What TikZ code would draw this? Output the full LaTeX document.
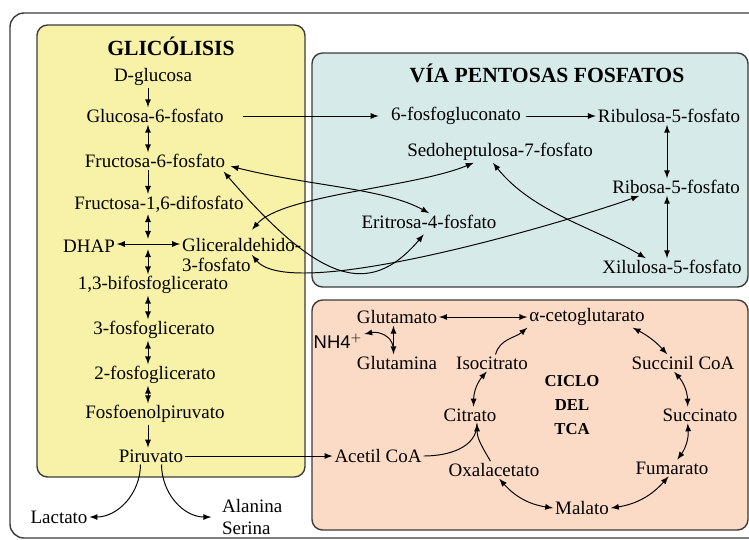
\documentclass[tikz,border=0pt]{standalone}
\usepackage{fontspec}
\setmainfont{Liberation Serif}
\newfontfamily\sansnh{Liberation Sans}

\definecolor{amarillo}{HTML}{F8F1A8}
\definecolor{celeste}{HTML}{D6EAE9}
\definecolor{salmon}{HTML}{FBDBC6}
\definecolor{borde}{HTML}{3C3C3C}

\tikzset{
	caja/.style={draw=borde, line width=0.8pt, rounded corners=6pt},
	met/.style={inner sep=1pt, font=\fontsize{10.8}{11}\selectfont},
	titulo/.style={inner sep=1pt, font=\fontsize{12.3}{14}\selectfont\bfseries},
	flecha/.style={line width=0.55pt, -latex},
	doble/.style={line width=0.55pt, latex-latex},
}

\begin{document}
\begin{tikzpicture}[x=0.02cm, y=-0.02cm]
		\useasboundingbox (0,0) rectangle (749,539);
		\draw[caja, rounded corners=8pt, fill=white] (10,13) rectangle (770,538);
		\draw[caja, fill=amarillo] (37,25) rectangle (305,477);
		\draw[caja, fill=celeste] (312,53) rectangle (748,287);
		\draw[caja, fill=salmon] (312,300) rectangle (748,530);

		% glucolisis
		\node[titulo] (glic) at (171,46) {GLICÓLISIS};
		\node[met] (glu) at (153,77) {D-glucosa};
		\node[met] (g6p) at (155,116) {Glucosa-6-fosfato};
		\node[met] (f6p) at (155,161) {Fructosa-6-fosfato};
		\node[met] (f16) at (159,204) {Fructosa-1,6-difosfato};
		\node[met] (dhap) at (89,246) {DHAP};
		\node[met, anchor=west, align=left] (gap) at (180,255) {Gliceraldehido-\\3-fosfato};
		\node[met] (bpg) at (153,285) {1,3-bifosfoglicerato};
		\node[met] (tpg) at (154,330) {3-fosfoglicerato};
		\node[met] (dpg) at (155,375) {2-fosfoglicerato};
		\node[met] (pep) at (155,414) {Fosfoenolpiruvato};
		\node[met] (pir) at (151,456) {Piruvato};
		\node[met] (lac) at (59,517) {Lactato};
		\node[met, anchor=west, align=left, font=\fontsize{10.8}{13}\selectfont] (ala) at (220,517) {Alanina\\Serina};
		\coordinate (cruce) at (148,244);

		\draw[flecha] (glu.south -| cruce) -- (g6p.north -| cruce);
		\draw[doble] (g6p.south -| cruce) -- (f6p.north -| cruce);
		\draw[flecha] (f6p.south -| cruce) -- (f16.north -| cruce);
		\draw[doble] (f16.south -| cruce) -- ([yshift=3pt]cruce);
		\draw[doble] (dhap.east |- cruce) -- (gap.west |- cruce);
		\draw[doble] ([yshift=-3pt]cruce) -- (bpg.north -| cruce);
		\draw[doble] (bpg.south -| cruce) -- (tpg.north -| cruce);
		\draw[doble] (tpg.south -| cruce) -- (dpg.north -| cruce);
		\draw[doble] (dpg.south -| cruce) -- (pep.north -| cruce);
		\draw[flecha] (pep.south -| cruce) -- (pir.north -| cruce);
		\draw[flecha] ([xshift=-6pt]pir.south) to[out=-90, in=0] (lac.east);
		\draw[flecha] ([xshift=6pt]pir.south) to[out=-90, in=180] ([xshift=-5pt]ala.west);

		% pentosas
		\node[titulo] (vpf) at (547,73) {VÍA PENTOSAS FOSFATOS};
		\node[met] (fgluc) at (456,116) {6-fosfogluconato};
		\node[met] (rul) at (669,116) {Ribulosa-5-fosfato};
		\node[met] (sed) at (500,152) {Sedoheptulosa-7-fosfato};
		\node[met] (rib) at (676,187) {Ribosa-5-fosfato};
		\node[met] (eri) at (429,222) {Eritrosa-4-fosfato};
		\node[met] (xil) at (672,267) {Xilulosa-5-fosfato};
		\coordinate (ejep) at (667,187);

		\draw[flecha] ([xshift=10pt]g6p.east) -- ([xshift=-6pt]fgluc.west);
		\draw[flecha] ([xshift=2pt]fgluc.east) -- (rul.west);
		\draw[doble] (rul.south -| ejep) -- (rib.north -| ejep);
		\draw[doble] (rib.south -| ejep) -- (xil.north -| ejep);
		\draw[doble] ([shift={(2pt,-3pt)}]f6p.east) .. controls +(80,20) and +(-45,-25) .. (eri.north);
		\draw[doble] ([shift={(6pt,4pt)}]gap.north) .. controls +(30,-35) and +(-60,25) .. ([xshift=-15pt]sed.south);
		\draw[doble] ([shift={(-2pt,-1pt)}]f6p.south east) .. controls +(95,110) and +(-55,65) .. ([shift={(-3pt,-2pt)}]eri.south);
		\draw[doble] ([xshift=41pt]gap.west) .. controls +(40,50) and +(-60,22) .. ([xshift=-21pt]rib.south);
		\draw[doble] ([xshift=-4pt]sed.south) .. controls +(40,50) and +(-50,-30) .. ([xshift=-15pt]xil.north);

		% ciclo del TCA
		\node[met, align=center, font=\fontsize{9.5}{13.6}\selectfont\bfseries] (tca) at (572,405) {CICLO\\DEL\\TCA};
		\node[met] (glut) at (397,317) {Glutamato};
		\node[met] (aceto) at (587,317) {α-cetoglutarato};
		\node[met, font=\sansnh\fontsize{10.5}{11}\selectfont] (nh) at (338,341) {NH4$^{+}$};
		\node[met] (glmn) at (397,363) {Glutamina};
		\node[met] (iso) at (492,363) {Isocitrato};
		\node[met] (succ) at (683,363) {Succinil CoA};
		\node[met] (cit) at (470,415) {Citrato};
		\node[met] (succin) at (700,415) {Succinato};
		\node[met] (acet) at (378,456) {Acetil CoA};
		\node[met] (oxa) at (494,470) {Oxalacetato};
		\node[met] (fum) at (672,468) {Fumarato};
		\node[met] (mal) at (582,508) {Malato};
		\coordinate (ramal) at (393,346);

		\draw[flecha] (pir.east) -- (acet.west);
		\draw[doble] (glut.east) -- (aceto.west);
		\draw[doble] ([xshift=-2pt]glut.south) -- ([xshift=-2pt]glmn.north);
		\draw[flecha] (ramal) .. controls +(-2,-10) and +(15,-3) .. ([yshift=4pt]nh.east);
		\draw[flecha] ([xshift=2pt]iso.north) to[out=75, in=-140] (aceto.south west);
		\draw[doble] ([xshift=2pt]cit.north) to[bend left=20] ([xshift=-3pt]iso.south);
		\draw[doble] ([xshift=-8pt]aceto.south east) to[bend left=10] ([xshift=-9pt]succ.north);
		\draw[doble] ([xshift=-5pt]succ.south) to[bend left=20] ([xshift=-7pt]succin.north);
		\draw[doble] ([xshift=-7pt]succin.south) to[bend left=20] ([xshift=3pt]fum.north);
		\draw[doble] ([xshift=-2pt]fum.south) to[bend left=20] (mal.east);
		\draw[doble] (mal.west) to[bend left=20] ([xshift=3pt]oxa.south);
		\draw[flecha] ([xshift=-2pt]oxa.north) to[out=120, in=-90] ([xshift=4pt]cit.south);
		\draw[line width=0.55pt] (acet.east) to[out=0, in=-90] ([xshift=4pt]cit.south);
\end{tikzpicture}
\end{document}
